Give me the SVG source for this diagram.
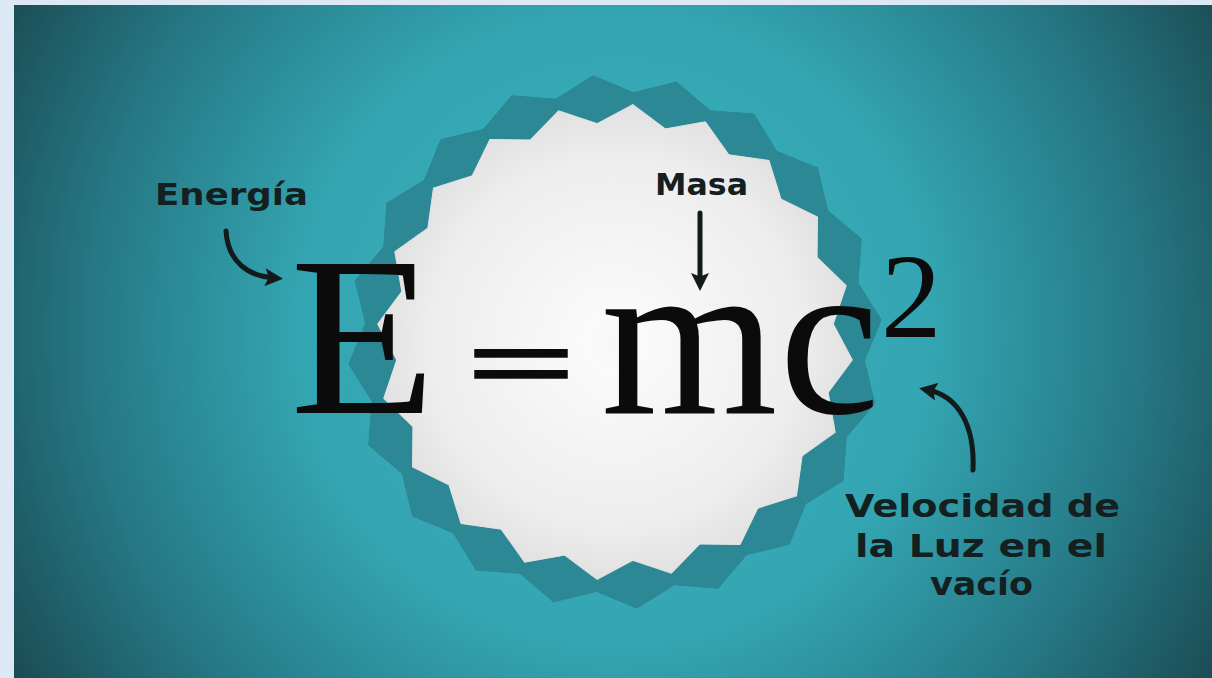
<svg xmlns="http://www.w3.org/2000/svg" xmlns:xlink="http://www.w3.org/1999/xlink" width="1212" height="678" viewBox="0 0 1212 678">
<defs>
<radialGradient id="bg" gradientUnits="userSpaceOnUse" cx="615" cy="330" r="700">
<stop offset="0" stop-color="#3cb4c0"/>
<stop offset="0.45" stop-color="#34a5b2"/>
<stop offset="0.75" stop-color="#257884"/>
<stop offset="1" stop-color="#1b4a52"/>
</radialGradient>
<radialGradient id="wg" gradientUnits="userSpaceOnUse" cx="0" cy="-30" r="260">
<stop offset="0" stop-color="#fafafa"/>
<stop offset="0.6" stop-color="#ededed"/>
<stop offset="1" stop-color="#d5d5d5"/>
</radialGradient>
<polygon id="toothD" points="0,0 -39.1,-246.9 0,-267 39.1,-246.9" fill="#2b8894" stroke="#2b8894" stroke-width="1"/>
<polygon id="toothW" points="0,0 -34.3,-216.3 0,-238 34.3,-216.3" fill="url(#wg)" stroke="url(#wg)" stroke-width="1"/>
<marker id="head" viewBox="0 0 10 10" refX="5" refY="5" markerWidth="18" markerHeight="18" markerUnits="userSpaceOnUse" orient="auto">
<path d="M0,0 L10,5 L0,10 L2,5 z" fill="#121a1b"/>
</marker>
</defs>
<style>
.lbl{font-family:"DejaVu Sans","Liberation Sans",sans-serif;font-weight:bold;fill:#14201f;}
.eq{font-family:"Liberation Serif","DejaVu Serif",serif;fill:#0b0b0b;}
.arr{fill:none;stroke:#121a1b;stroke-width:5;stroke-linecap:round;}
</style>
<rect x="0" y="0" width="1212" height="678" fill="#dce8f4"/>
<rect x="14" y="5" width="1198" height="673" fill="url(#bg)"/>
<g id="star" transform="translate(615,342)">
<g id="dark">
<use xlink:href="#toothD" transform="rotate(-4.7)"/>
<use xlink:href="#toothD" transform="rotate(13.3)"/>
<use xlink:href="#toothD" transform="rotate(31.3)"/>
<use xlink:href="#toothD" transform="rotate(49.3)"/>
<use xlink:href="#toothD" transform="rotate(67.3)"/>
<use xlink:href="#toothD" transform="rotate(85.3)"/>
<use xlink:href="#toothD" transform="rotate(103.3)"/>
<use xlink:href="#toothD" transform="rotate(121.3)"/>
<use xlink:href="#toothD" transform="rotate(139.3)"/>
<use xlink:href="#toothD" transform="rotate(157.3)"/>
<use xlink:href="#toothD" transform="rotate(175.3)"/>
<use xlink:href="#toothD" transform="rotate(193.3)"/>
<use xlink:href="#toothD" transform="rotate(211.3)"/>
<use xlink:href="#toothD" transform="rotate(229.3)"/>
<use xlink:href="#toothD" transform="rotate(247.3)"/>
<use xlink:href="#toothD" transform="rotate(265.3)"/>
<use xlink:href="#toothD" transform="rotate(283.3)"/>
<use xlink:href="#toothD" transform="rotate(301.3)"/>
<use xlink:href="#toothD" transform="rotate(319.3)"/>
<use xlink:href="#toothD" transform="rotate(337.3)"/>
</g>
<g id="light">
<use xlink:href="#toothW" transform="rotate(4.3)"/>
<use xlink:href="#toothW" transform="rotate(22.3)"/>
<use xlink:href="#toothW" transform="rotate(40.3)"/>
<use xlink:href="#toothW" transform="rotate(58.3)"/>
<use xlink:href="#toothW" transform="rotate(76.3)"/>
<use xlink:href="#toothW" transform="rotate(94.3)"/>
<use xlink:href="#toothW" transform="rotate(112.3)"/>
<use xlink:href="#toothW" transform="rotate(130.3)"/>
<use xlink:href="#toothW" transform="rotate(148.3)"/>
<use xlink:href="#toothW" transform="rotate(166.3)"/>
<use xlink:href="#toothW" transform="rotate(184.3)"/>
<use xlink:href="#toothW" transform="rotate(202.3)"/>
<use xlink:href="#toothW" transform="rotate(220.3)"/>
<use xlink:href="#toothW" transform="rotate(238.3)"/>
<use xlink:href="#toothW" transform="rotate(256.3)"/>
<use xlink:href="#toothW" transform="rotate(274.3)"/>
<use xlink:href="#toothW" transform="rotate(292.3)"/>
<use xlink:href="#toothW" transform="rotate(310.3)"/>
<use xlink:href="#toothW" transform="rotate(328.3)"/>
<use xlink:href="#toothW" transform="rotate(346.3)"/>
</g>
</g>
<g id="equation" class="eq">
<text x="290" y="413" font-size="227" textLength="146" lengthAdjust="spacingAndGlyphs">E</text>
<text x="0" y="0" font-size="106" stroke="#0b0b0b" stroke-width="3.5" transform="translate(468,399) scale(1.77,1)">=</text>
<text x="601" y="413" font-size="227">m</text>
<text x="779" y="413" font-size="227">c</text>
<text x="881" y="337" font-size="121">2</text>
</g>
<g id="connectors">
<path class="arr" d="M226,231 C228,262 248,276 274,278" marker-end="url(#head)"/>
<path class="arr" d="M700,213 L700,282" marker-end="url(#head)"/>
<path class="arr" d="M973,470 C975,425 958,396 928,390" marker-end="url(#head)"/>
</g>
<g id="label-energia"><text class="lbl" x="155" y="205" font-size="31" textLength="153" lengthAdjust="spacingAndGlyphs">Energía</text></g>
<g id="label-masa"><text class="lbl" x="655" y="195" font-size="31" textLength="93" lengthAdjust="spacingAndGlyphs">Masa</text></g>
<g id="label-velocidad">
<text class="lbl" x="845" y="517" font-size="32" textLength="275" lengthAdjust="spacingAndGlyphs">Velocidad de</text>
<text class="lbl" x="855" y="557" font-size="32" textLength="252" lengthAdjust="spacingAndGlyphs">la Luz en el</text>
<text class="lbl" x="930" y="595" font-size="32" textLength="103" lengthAdjust="spacingAndGlyphs">vacío</text>
</g>
</svg>
